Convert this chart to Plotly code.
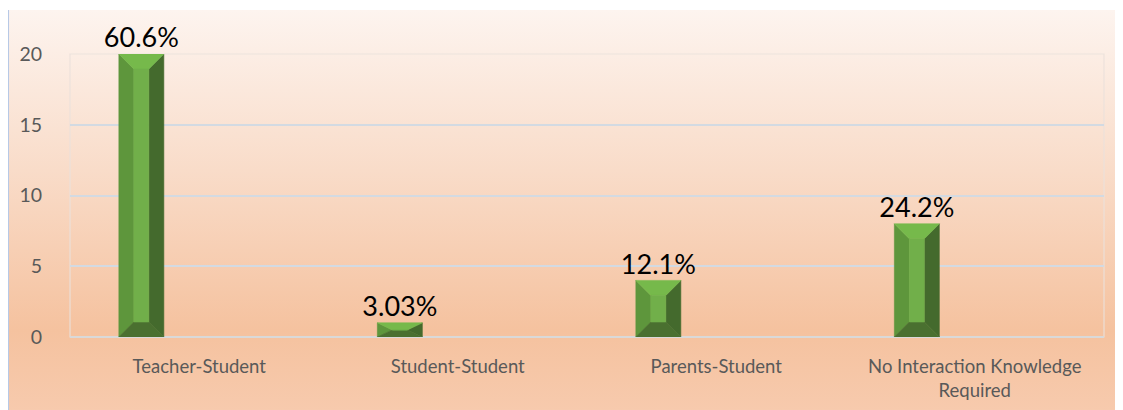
import plotly.graph_objects as go

### DATA ###
categories = ["Teacher-Student", "Student-Student", "Parents-Student",
              "No Interaction Knowledge<br>Required"]
counts = [20, 1, 4, 8]
pct_labels = ["60.6%", "3.03%", "12.1%", "24.2%"]
y_ticks = [0, 5, 10, 15, 20]

### STYLE ###
FONT = "Lato"
BAR_W = 0.174      # bar width in category units
BAR_OFF = -0.311   # left edge of bar relative to category centre
BEVEL_X = 0.058    # bevel size in category units
BEVEL_Y = 1.06     # bevel size in value units

face_colors = {
    "left": "#5E963C",
    "right": "#446A2D",
    "bottom": "#4A7030",
    "top": "#76B94B",
    "centre": "#71AF4A",
}


def bevel_faces(i, h):
    """Polygons for the five faces of one bevelled bar."""
    xl = i + BAR_OFF
    xr = xl + BAR_W
    bx = BEVEL_X
    by = min(BEVEL_Y, h / 2)
    return {
        "left": [(xl, 0), (xl, h), (xl + bx, h - by), (xl + bx, by)],
        "right": [(xr, 0), (xr, h), (xr - bx, h - by), (xr - bx, by)],
        "bottom": [(xl, 0), (xr, 0), (xr - bx, by), (xl + bx, by)],
        "top": [(xl, h), (xr, h), (xr - bx, h - by), (xl + bx, h - by)],
        "centre": [(xl + bx, by), (xr - bx, by), (xr - bx, h - by), (xl + bx, h - by)],
    }


fig = go.Figure()

# one filled trace per face colour, polygons separated by None
for face, colour in face_colors.items():
    xs, ys = [], []
    for i, h in enumerate(counts):
        pts = bevel_faces(i, h)[face]
        xs += [p[0] for p in pts] + [pts[0][0], None]
        ys += [p[1] for p in pts] + [pts[0][1], None]
    fig.add_trace(go.Scatter(
        x=xs, y=ys, mode="lines", fill="toself",
        fillcolor=colour, line=dict(width=0.6, color=colour),
        hoverinfo="skip", showlegend=False,
    ))

# percentage labels above bars
fig.add_trace(go.Scatter(
    x=[i + BAR_OFF + BAR_W / 2 for i in range(len(counts))],
    y=counts,
    mode="text",
    text=pct_labels,
    textposition="top center",
    textfont=dict(family=FONT, size=27, color="#000000"),
    cliponaxis=False,
    hoverinfo="skip", showlegend=False,
))

# gradient background behind the whole chart
svg = ("<svg xmlns='http://www.w3.org/2000/svg' width='100' height='100' preserveAspectRatio='none'>"
       "<defs><linearGradient id='g' x1='0' y1='0' x2='0' y2='1'>"
       "<stop offset='0' stop-color='%23FDF4EF'/>"
       "<stop offset='0.4' stop-color='%23F9DCC9'/>"
       "<stop offset='0.8' stop-color='%23F5C29F'/>"
       "<stop offset='1' stop-color='%23F7CAAD'/>"
       "</linearGradient></defs>"
       "<rect width='100' height='100' fill='url(%23g)'/></svg>")
fig.add_layout_image(dict(
    source="data:image/svg+xml;charset=utf-8," + svg.replace("<", "%3C").replace(">", "%3E"),
    xref="paper", yref="paper",
    x=-0.0609, y=1.1555, sizex=1.0793, sizey=1.4134,
    xanchor="left", yanchor="top", sizing="stretch", layer="below",
))

# faint frame round the plot area and the blue left edge of the chart
fig.add_shape(type="rect", xref="paper", yref="paper", x0=0, x1=1, y0=0, y1=1,
              line=dict(color="rgba(235,225,220,0.9)", width=1.2), layer="below")
fig.add_shape(type="line", xref="paper", yref="paper", x0=-0.0599, x1=-0.0599,
              y0=-0.258, y1=1.1555, line=dict(color="#B7C9E6", width=2))

# the page body keeps an 8px margin, so the figure is shrunk by that much
fig.update_layout(
    width=1115, height=402,
    margin=dict(l=62, r=19, t=46, b=73),
    paper_bgcolor="white",
    plot_bgcolor="rgba(0,0,0,0)",
    font=dict(family=FONT, size=18, color="#595959"),
    showlegend=False,
)
fig.update_xaxes(
    range=[-0.5, len(categories) - 0.5],
    tickvals=list(range(len(categories))),
    ticktext=categories,
    showgrid=False, zeroline=False,
    showline=False,
    ticks="outside", ticklen=13, tickcolor="rgba(0,0,0,0)",
    tickfont=dict(family=FONT, size=18.5, color="#595959"),
    automargin=False,
    fixedrange=True,
)
fig.update_yaxes(
    range=[0, 20],
    tickvals=y_ticks,
    showgrid=True, gridcolor="#D3DAE2", gridwidth=1.5,
    zeroline=True, zerolinecolor="#D9D9D9", zerolinewidth=2,
    ticks="outside", ticklen=23, tickcolor="rgba(0,0,0,0)",
    tickfont=dict(family=FONT, size=19.5, color="#595959"),
    automargin=False,
    fixedrange=True,
)

fig.write_html("out.html")
